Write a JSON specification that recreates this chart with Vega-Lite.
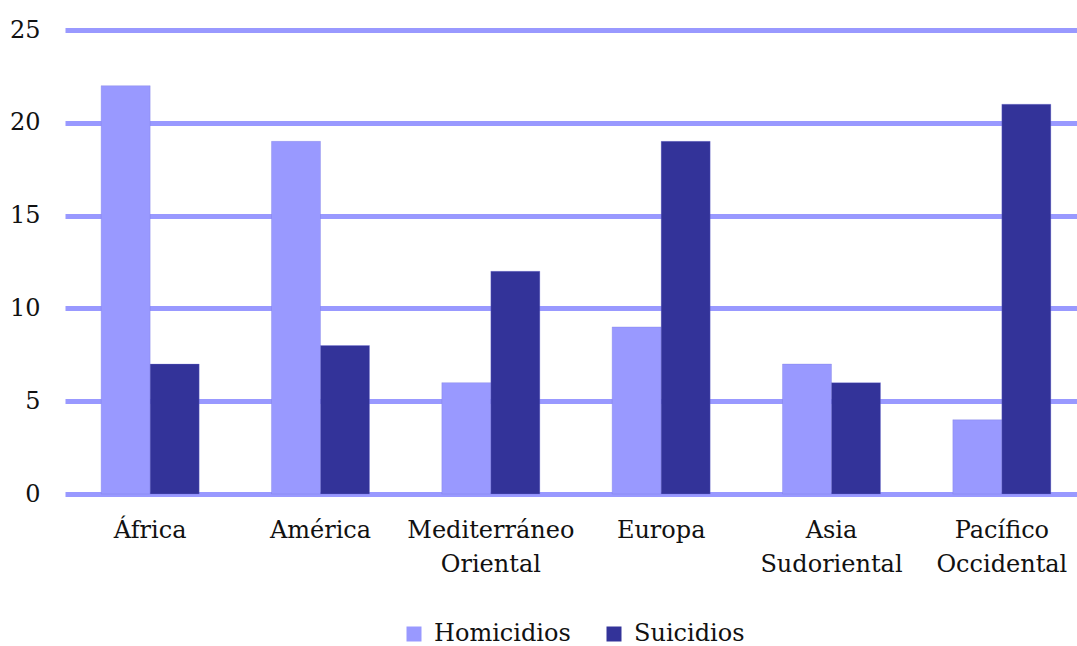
{
  "$schema": "https://vega.github.io/schema/vega-lite/v6.json",
  "width": 1022,
  "height": 464,
  "autosize": {"type": "none"},
  "padding": {"left": 65, "top": 30, "right": 0, "bottom": 152},
  "background": "white",
  "config": {
    "font": "DejaVu Serif",
    "view": {"stroke": null}
  },
  "data": {
    "values": [
      {"region": "África", "serie": "Homicidios", "valor": 22},
      {"region": "África", "serie": "Suicidios", "valor": 7},
      {"region": "América", "serie": "Homicidios", "valor": 19},
      {"region": "América", "serie": "Suicidios", "valor": 8},
      {"region": "Mediterráneo Oriental", "serie": "Homicidios", "valor": 6},
      {"region": "Mediterráneo Oriental", "serie": "Suicidios", "valor": 12},
      {"region": "Europa", "serie": "Homicidios", "valor": 9},
      {"region": "Europa", "serie": "Suicidios", "valor": 19},
      {"region": "Asia Sudoriental", "serie": "Homicidios", "valor": 7},
      {"region": "Asia Sudoriental", "serie": "Suicidios", "valor": 6},
      {"region": "Pacífico Occidental", "serie": "Homicidios", "valor": 4},
      {"region": "Pacífico Occidental", "serie": "Suicidios", "valor": 21}
    ]
  },
  "mark": {"type": "bar", "stroke": "#7777dd", "strokeWidth": 0.5, "strokeOpacity": 0.6},
  "encoding": {
    "x": {
      "field": "region",
      "type": "nominal",
      "sort": null,
      "scale": {"paddingInner": 0.4245, "paddingOuter": 0.21225},
      "axis": {
        "title": null,
        "labelAngle": 0,
        "domain": false,
        "ticks": false,
        "labelFontSize": 24,
        "labelColor": "#111111",
        "labelPadding": 24,
        "labelLineHeight": 34,
        "labelBaseline": "top",
        "labelExpr": "split(datum.label, ' ')"
      }
    },
    "y": {
      "field": "valor",
      "type": "quantitative",
      "scale": {"domain": [0, 25]},
      "axis": {
        "title": null,
        "values": [0, 5, 10, 15, 20, 25],
        "domain": false,
        "ticks": false,
        "grid": true,
        "gridColor": "#9999ff",
        "gridWidth": 5,
        "gridOpacity": 1,
        "labelFontSize": 24,
        "labelColor": "#111111",
        "labelPadding": 25
      }
    },
    "xOffset": {"field": "serie", "type": "nominal", "sort": ["Homicidios", "Suicidios"]},
    "color": {
      "field": "serie",
      "type": "nominal",
      "scale": {"domain": ["Homicidios", "Suicidios"], "range": ["#9999ff", "#333399"]},
      "legend": {
        "title": null,
        "orient": "none",
        "direction": "horizontal",
        "legendX": 337,
        "legendY": 592,
        "symbolType": "square",
        "symbolSize": 225,
        "symbolStrokeWidth": 0,
        "labelFontSize": 24,
        "labelColor": "#111111",
        "columnPadding": 31,
        "labelOffset": 8
      }
    }
  }
}
